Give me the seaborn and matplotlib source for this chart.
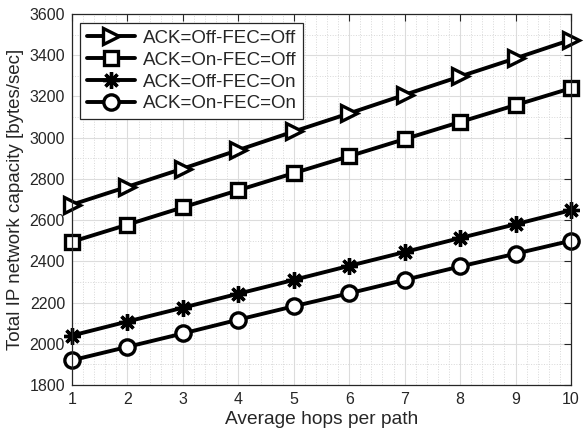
import matplotlib
matplotlib.use("Agg")
import matplotlib.pyplot as plt
import seaborn as sns
import pandas as pd
from matplotlib.ticker import MultipleLocator
from matplotlib.lines import Line2D

hops = [1, 2, 3, 4, 5, 6, 7, 8, 9, 10]
ack_off_fec_off = [2675, 2762, 2850, 2940, 3030, 3118, 3208, 3297, 3385, 3475]
ack_on_fec_off = [2495, 2578, 2662, 2745, 2828, 2910, 2993, 3076, 3158, 3240]
ack_off_fec_on = [2040, 2108, 2175, 2243, 2310, 2378, 2445, 2513, 2580, 2648]
ack_on_fec_on = [1920, 1985, 2050, 2117, 2182, 2245, 2310, 2375, 2437, 2500]
labels = ["ACK=Off-FEC=Off", "ACK=On-FEC=Off", "ACK=Off-FEC=On", "ACK=On-FEC=On"]
markers = [">", "s", (8, 2, 0), "o"]
mstyles = [dict(markersize=11.5, markerfacecolor="white"),
           dict(markersize=10, markerfacecolor="white"),
           dict(markersize=12, markerfacecolor="black"),
           dict(markersize=11, markerfacecolor="white")]

sns.set_theme(style="white")
plt.rcParams["font.family"] = ["Liberation Sans", "DejaVu Sans"]

fig = plt.figure(figsize=(5.84, 4.33), dpi=100)
ax = fig.add_axes([72/584, 1 - 385/433, (571-72)/584, (385-14)/433])

handles = []
for lab, vals, mk, ms in zip(labels, [ack_off_fec_off, ack_on_fec_off, ack_off_fec_on, ack_on_fec_on], markers, mstyles):
    d = pd.DataFrame({"hops": hops, "cap": vals})
    sns.lineplot(data=d, x="hops", y="cap", color="black", linewidth=2.8,
                 marker=mk, markeredgecolor="black", markeredgewidth=2.4,
                 ax=ax, clip_on=False, **ms)
    handles.append(Line2D([], [], color="black", linewidth=2.8, marker=mk,
                          markeredgecolor="black", markeredgewidth=2.4, **ms))

ax.set_xlim(1, 10)
ax.set_ylim(1800, 3600)
ax.xaxis.set_major_locator(MultipleLocator(1))
ax.yaxis.set_major_locator(MultipleLocator(200))
ax.xaxis.set_minor_locator(MultipleLocator(0.2))
ax.yaxis.set_minor_locator(MultipleLocator(100))
ax.grid(which="major", color="#dcdcdc", linewidth=0.8)
ax.grid(which="minor", color="#d8d8d8", linestyle=":", linewidth=0.7)
ax.tick_params(which="major", direction="in", length=5, top=True, right=True,
               labelsize=11.5, colors="#262626", width=0.8, pad=5)
ax.tick_params(which="minor", length=0)
for s in ax.spines.values():
    s.set_color("#262626")
    s.set_linewidth(0.9)
ax.set_xlabel("Average hops per path", fontsize=13.8, color="#262626", labelpad=3)
ax.set_ylabel("Total IP network capacity [bytes/sec]", fontsize=13.5, color="#262626", labelpad=4)

leg = ax.legend(handles, labels, loc="upper left", bbox_to_anchor=(0.005, 0.99),
                fontsize=13.5, frameon=True, fancybox=False, edgecolor="#262626",
                framealpha=1, handlelength=2.6, borderpad=0.35, labelspacing=0.25,
                handletextpad=0.4, borderaxespad=0.3)
leg.get_frame().set_linewidth(0.9)
for t in leg.get_texts():
    t.set_color("#262626")

fig.savefig("out.png", dpi=100)
